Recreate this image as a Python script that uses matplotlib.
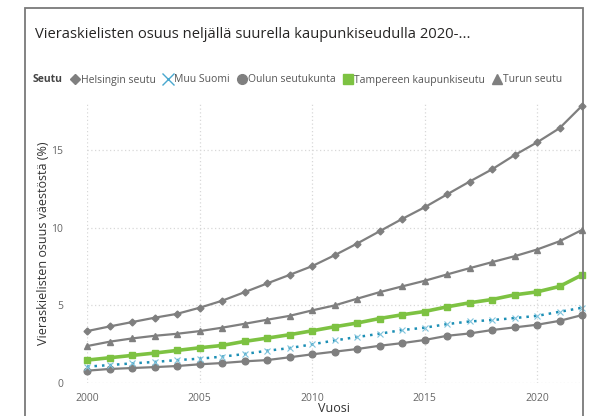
import matplotlib
matplotlib.use("Agg")
import matplotlib.pyplot as plt
from matplotlib.lines import Line2D
from matplotlib.patches import Rectangle

years = list(range(2000, 2023))
helsinki = [3.35, 3.65, 3.93, 4.21, 4.46, 4.85, 5.30, 5.85, 6.41, 6.96, 7.52, 8.22, 8.97,
            9.76, 10.55, 11.30, 12.13, 12.95, 13.74, 14.65, 15.47, 16.38, 17.82]
muu_suomi = [1.07, 1.17, 1.28, 1.37, 1.49, 1.58, 1.71, 1.88, 2.09, 2.26, 2.50, 2.75, 2.97,
             3.18, 3.42, 3.57, 3.80, 3.97, 4.06, 4.19, 4.33, 4.59, 4.85]
oulu = [0.81, 0.92, 0.98, 1.04, 1.11, 1.22, 1.30, 1.41, 1.49, 1.67, 1.86, 2.03, 2.20,
        2.41, 2.58, 2.78, 3.05, 3.20, 3.42, 3.59, 3.76, 4.01, 4.38]
tampere = [1.49, 1.64, 1.79, 1.94, 2.11, 2.28, 2.43, 2.69, 2.90, 3.12, 3.37, 3.63, 3.87,
           4.16, 4.40, 4.61, 4.91, 5.17, 5.38, 5.68, 5.87, 6.22, 6.96]
turku = [2.39, 2.67, 2.88, 3.05, 3.18, 3.35, 3.57, 3.82, 4.08, 4.33, 4.68, 5.00, 5.43,
         5.85, 6.22, 6.58, 6.99, 7.39, 7.78, 8.16, 8.59, 9.12, 9.85]
series_names = ["Helsingin seutu", "Muu Suomi", "Oulun seutukunta",
                "Tampereen kaupunkiseutu", "Turun seutu"]
x_ticks = [2000, 2005, 2010, 2015, 2020]
y_ticks = [0, 5, 10, 15]

plt.rcParams['font.family'] = ['Open Sans', 'DejaVu Sans']

W, H = 590, 416
fig = plt.figure(figsize=(W / 100, H / 100), dpi=100)

# card frame
fig.patches.append(Rectangle((25 / W, -0.1), (583 - 25) / W, 1.1 - 8 / H,
                             transform=fig.transFigure, fill=False,
                             edgecolor='#7a7a7a', linewidth=1.3, zorder=0))

ax_h = 383.3 - 103
ax = fig.add_axes([87 / W, 32.7 / H, (582 - 87) / W, ax_h / H])

gray = '#7f7f7f'
green = '#7dc242'
blue = '#1c8fb5'

ax.plot(years, oulu, color=gray, lw=1.6, marker='o', ms=4.8, clip_on=False, zorder=3)
ax.plot(years, muu_suomi, color=blue, lw=1.8, ls=(0, (1, 2)), marker='x', ms=4.5,
        mew=0.8, mec='#7fc3dc', clip_on=False, zorder=4)
ax.plot(years, tampere, color=green, lw=2.6, marker='s', ms=5, clip_on=False, zorder=5)
ax.plot(years, turku, color=gray, lw=1.6, marker='^', ms=4.5, clip_on=False, zorder=3)
ax.plot(years, helsinki, color=gray, lw=1.6, marker='D', ms=3.5, clip_on=False, zorder=3)

ax.set_xlim(2000, 2022)
ax.set_ylim(0, 18)
ax.set_xticks(x_ticks)
ax.set_yticks(y_ticks)
for s in ax.spines.values():
    s.set_visible(False)
ax.grid(True, color='#d8d8d8', ls=(0, (1, 2)), lw=0.9)
ax.set_axisbelow(True)
ax.tick_params(length=0, labelsize=7.5, labelcolor='#666666', pad=7)
ax.tick_params(axis='y', pad=17)

ax.set_ylabel("Vieraskielisten osuus väestöstä (%)", fontsize=9, color='#333333', labelpad=1)
ax.set_xlabel("Vuosi", fontsize=9, color='#333333', va='bottom')
ax.xaxis.set_label_coords(0.5, (1.5 - 32.7) / ax_h)

fig.text(35 / W, 1 - 35 / H, "Vieraskielisten osuus neljällä suurella kaupunkiseudulla 2020-...",
         fontsize=10.6, color='#252423', va='center', ha='left')

fig.text(33 / W, 1 - 80 / H, "Seutu", fontsize=7.5, fontweight='bold', color='#444444',
         va='center', ha='left')

handles = [
    Line2D([], [], ls='none', marker='D', ms=5, color=gray),
    Line2D([], [], ls='none', marker='x', ms=8, mew=1.0, color='#4aa8cf'),
    Line2D([], [], ls='none', marker='o', ms=7, color=gray),
    Line2D([], [], ls='none', marker='s', ms=7, color=green),
    Line2D([], [], ls='none', marker='^', ms=7, color=gray),
]
leg = fig.legend(handles, series_names, loc='center left',
                 bbox_to_anchor=(70 / W, 1 - 80 / H), ncol=5, frameon=False,
                 fontsize=7.5, handlelength=0.9, handletextpad=0.15, columnspacing=0.7,
                 borderpad=0, borderaxespad=0)
for t in leg.get_texts():
    t.set_color('#555555')

fig.savefig("out.png", dpi=100)
